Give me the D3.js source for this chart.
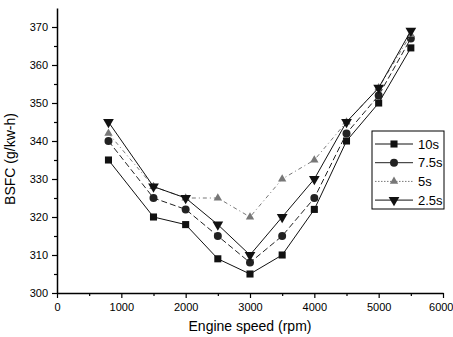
<!DOCTYPE html>
<html><head><meta charset="utf-8">
<script src="https://cdn.jsdelivr.net/npm/d3@7"></script>
<style>body{margin:0;background:#fff}svg{display:block}text{font-family:"Liberation Sans",Arial,sans-serif}</style>
</head><body><svg id="c" width="453" height="337"></svg>
<script>
const speeds = [800,1500,2000,2500,3000,3500,4000,4500,5000,5500];
const s10  = [335,320,318,309,305,310,322,340,350,364.5];
const s75  = [340,325,322,315,308,315,325,342,352,367];
const s5   = [342,328,325,325,320,330,335,345,354,368];
const s25  = [345,328,325,318,310,320,330,345,354,369];
const seriesNames = ["10s","7.5s","5s","2.5s"];
const xTicks = [0,1000,2000,3000,4000,5000,6000];
const yTicks = [300,310,320,330,340,350,360,370];

const svg = d3.select("#c");
const x = d3.scaleLinear().domain([0,6000]).range([57,443]);
const y = d3.scaleLinear().domain([300,375]).range([293,8]);

const series = [
  {name:seriesNames[0], v:s10, sym:d3.symbolSquare, dash:null, col:"#111", rot:0, size:50},
  {name:seriesNames[1], v:s75, sym:d3.symbolCircle, dash:"6,3", col:"#222", rot:0, size:50},
  {name:seriesNames[2], v:s5, sym:d3.symbolTriangle, dash:"4,3,1,3", col:"#777", rot:0, size:30},
  {name:seriesNames[3], v:s25, sym:d3.symbolTriangle, dash:null, col:"#111", rot:180, size:50}
];

const xa = svg.append("g").attr("transform","translate(0,293)")
  .call(d3.axisBottom(x).tickValues(xTicks).tickSize(5).tickSizeOuter(0).tickFormat(d3.format("d")));
svg.append("g").attr("transform","translate(0,293)")
  .call(d3.axisBottom(x).tickValues(d3.range(500,6000,1000)).tickSize(3).tickFormat("").tickSizeOuter(0))
  .select(".domain").remove();
const ya = svg.append("g").attr("transform","translate(57,0)")
  .call(d3.axisLeft(y).tickValues(yTicks).tickSize(5).tickSizeOuter(0).tickFormat(d3.format("d")));
svg.append("g").attr("transform","translate(57,0)")
  .call(d3.axisLeft(y).tickValues(d3.range(305,375,10)).tickSize(3).tickFormat("").tickSizeOuter(0))
  .select(".domain").remove();
svg.selectAll(".domain").attr("stroke","#000").attr("stroke-width",1.5);
svg.selectAll(".tick line").attr("stroke","#000").attr("stroke-width",1.2);
xa.selectAll("text").attr("font-size",11).attr("dy","0.9em").attr("fill","#000");
xa.selectAll(".tick").filter(d=>d===6000).select("text").attr("text-anchor","end").attr("dx","10");
ya.selectAll("text").attr("font-size",11).attr("fill","#000").attr("dx","-1");

svg.append("text").attr("x",250).attr("y",331).attr("text-anchor","middle")
  .attr("font-size",14).text("Engine speed (rpm)");
svg.append("text").attr("transform","translate(15,159) rotate(-90)").attr("text-anchor","middle")
  .attr("font-size",14).text("BSFC (g/kw-h)");

const line = d3.line().x((d,i)=>x(speeds[i])).y(d=>y(d));
series.forEach(s=>{
  svg.append("path").datum(s.v).attr("d",line).attr("fill","none")
    .attr("stroke",s.col).attr("stroke-width",1).attr("stroke-dasharray",s.dash);
  svg.append("g").selectAll("path").data(s.v).join("path")
    .attr("d",d3.symbol().type(s.sym).size(s.size))
    .attr("transform",(d,i)=>`translate(${x(speeds[i])},${y(d)}) rotate(${s.rot})`)
    .attr("fill",s.col);
});

const lg = svg.append("g");
lg.append("rect").attr("x",372).attr("y",131).attr("width",72).attr("height",78)
  .attr("fill","#fff").attr("stroke","#000").attr("stroke-width",1);
series.forEach((s,i)=>{
  const yy = 144 + i*18.7;
  lg.append("line").attr("x1",375).attr("x2",413).attr("y1",yy).attr("y2",yy)
    .attr("stroke",s.col).attr("stroke-width",1).attr("stroke-dasharray",i===2?"1.5,1.5":null);
  lg.append("path").attr("d",d3.symbol().type(s.sym).size(s.size))
    .attr("transform",`translate(394,${yy}) rotate(${s.rot})`).attr("fill",s.col);
  lg.append("text").attr("x",418).attr("y",yy).attr("dy","0.35em").attr("font-size",13).text(s.name);
});
</script></body></html>
